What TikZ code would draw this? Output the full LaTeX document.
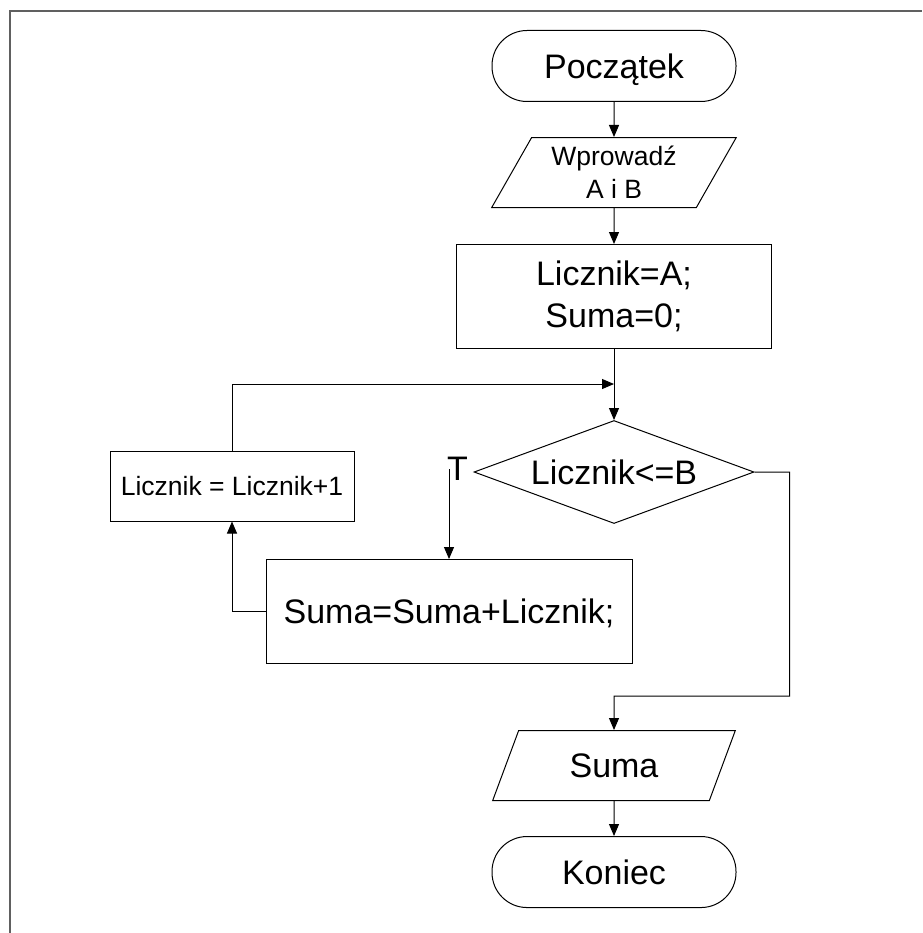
\documentclass[tikz,border=0pt]{standalone}
\usepackage{fontspec}
\setmainfont{Liberation Sans}
\usetikzlibrary{arrows.meta,shapes.geometric,positioning}

\definecolor{framegray}{HTML}{606060}

\tikzset{
  big/.style={font=\fontsize{34}{42}\selectfont},
  small/.style={font=\fontsize{26.5}{33}\selectfont},
  terminal/.style={draw, rectangle, rounded corners=35pt, minimum width=244pt, minimum height=71pt, inner sep=0pt, text depth=0pt, big},
  io/.style={draw, trapezium, trapezium stretches=true, minimum height=70pt, inner sep=0pt},
  process/.style={draw, rectangle, inner sep=0pt, align=center},
  decision/.style={draw, diamond, aspect=2.72, minimum width=280pt, minimum height=103pt, inner sep=0pt, text depth=0pt, big},
  flow/.style={-{Triangle[length=12pt,width=10pt]}}
}

\begin{document}
\begin{tikzpicture}[x=1pt, y=1pt, line width=1pt]
					\useasboundingbox (0,0) rectangle (922,-933);
					\draw[framegray, line width=2.5pt] (10,-933) -- (10,-11) -- (922,-11);

					\node[terminal]  (start) at (614,-66)           {Początek};
					\node[io, small, align=center, minimum width=245pt,
					      trapezium left angle=60, trapezium right angle=120]
					                 (input) [below=35pt of start]  {Wprowadź\\A i B};
					\node[process, big, minimum width=315pt, minimum height=104pt]
					                 (init)  [below=36pt of input]  {Licznik=A;\\Suma=0;};
					\coordinate[below=35pt of init] (join);
					\node[decision]  (cond)  [below=71pt of init]   {Licznik<=B};
					\node[big, inner sep=0pt]
					                 (tlabel) [left=5pt of cond.west, yshift=3pt] {T};
					\node[process, big, minimum width=366pt, minimum height=104pt, text depth=0pt]
					                 (body)  [below=35pt of cond, xshift=-165pt] {Suma=Suma+Licznik;};
					\node[process, small, minimum width=244pt, minimum height=70pt]
					                 (incr)  [left=119pt of cond, yshift=-14pt] {Licznik = Licznik+1};
					\node[io, big, minimum width=243pt, text depth=0pt,
					      trapezium left angle=63, trapezium right angle=117]
					                 (out)   [below=206pt of cond]  {Suma};
					\coordinate[above=34pt of out] (outin);
					\node[terminal]  (stop)  [below=35pt of out]    {Koniec};

					\draw[flow] (start) -- (input);
					\draw[flow] (input) -- (init);
					\draw[flow] (init) -- (cond);
					\draw[flow] (incr.north) |- (join);
					\draw[flow] (body.north |- tlabel.west) -- (body.north);
					\draw[flow] (body.west) -| (incr.south);
					\draw[flow] (cond.east) -- ++(35,0) |- (outin) -- (out);
					\draw[flow] (out) -- (stop);
				\end{tikzpicture}
\end{document}
